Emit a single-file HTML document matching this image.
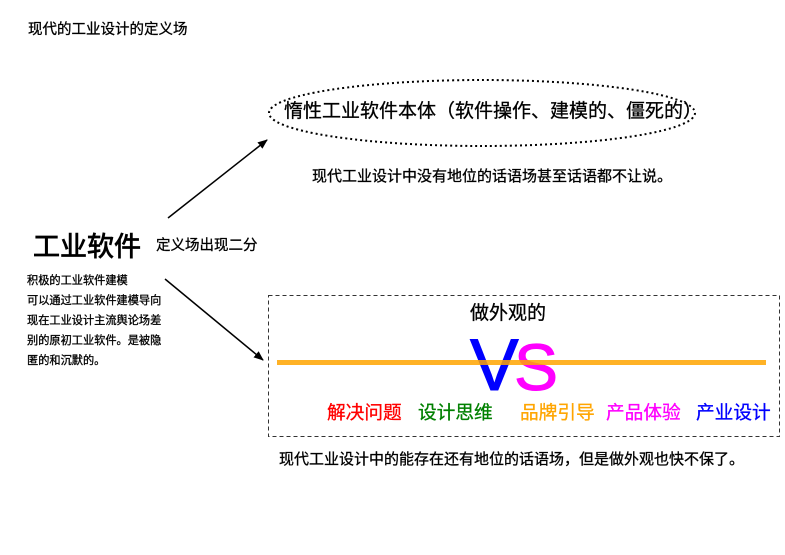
<!DOCTYPE html>
<html><head><meta charset="utf-8"><style>
body{margin:0;width:785px;height:555px;background:#fff;position:relative;overflow:hidden;font-family:"Liberation Sans","Noto Sans CJK SC",sans-serif;color:#000}
.t{position:absolute;white-space:nowrap;line-height:1;-webkit-text-stroke:0.3px currentColor}
</style></head><body>
<svg width="785" height="555" style="position:absolute;left:0;top:0">
<defs><marker id="a" markerWidth="10" markerHeight="8" refX="9" refY="4" orient="auto" markerUnits="userSpaceOnUse"><path d="M0,0 L10,4 L0,8 Z" fill="#000"/></marker></defs>
<ellipse cx="482" cy="113" rx="213" ry="33" fill="none" stroke="#000" stroke-width="2" stroke-dasharray="2,3"/>
<rect x="268.5" y="295.5" width="511" height="141" fill="none" stroke="#333" stroke-width="1" stroke-dasharray="4,3"/>
<line x1="168" y1="218" x2="267" y2="140" stroke="#000" stroke-width="1.5" marker-end="url(#a)"/>
<line x1="165" y1="279" x2="263" y2="360" stroke="#000" stroke-width="1.5" marker-end="url(#a)"/>
<text x="470" y="390" font-family="Liberation Sans, sans-serif" font-size="73" fill="#0000ff" stroke="#0000ff" stroke-width="1">V</text>
<text x="514" y="390" font-family="Liberation Sans, sans-serif" font-size="66" fill="#ff00ff" stroke="#ff00ff" stroke-width="1">S</text>
<rect x="277" y="360" width="489" height="5" fill="#ffa500" opacity="0.85"/>
</svg>
<div class="t" style="left:28px;top:23px;font-size:14.5px">现代的工业设计的定义场</div>
<div class="t" style="left:284px;top:102px;font-size:19px">惰性工业软件本体（软件操作、建模的、僵死的）</div>
<div class="t" style="left:312px;top:169px;font-size:15px">现代工业设计中没有地位的话语场甚至话语都不让说。</div>
<div class="t" style="left:33px;top:234px;font-size:27px;-webkit-text-stroke:0.8px #000">工业软件</div>
<div class="t" style="left:156px;top:239px;font-size:14.5px">定义场出现二分</div>
<div class="t" style="left:27px;top:271px;font-size:11.2px;line-height:20px;white-space:normal;width:150px">积极的工业软件建模<br>可以通过工业软件建模导向<br>现在工业设计主流舆论场差<br>别的原初工业软件。是被隐<br>匿的和沉默的。</div>
<div class="t" style="left:470px;top:304px;font-size:19px">做外观的</div>
<div class="t" style="left:327px;top:404px;font-size:18.7px;color:#ff0000">解决问题</div>
<div class="t" style="left:418px;top:404px;font-size:18.7px;color:#008000">设计思维</div>
<div class="t" style="left:520px;top:404px;font-size:18.7px;color:#ffa500">品牌引导</div>
<div class="t" style="left:606px;top:404px;font-size:18.7px;color:#ff00ff">产品体验</div>
<div class="t" style="left:696px;top:404px;font-size:18.7px;color:#0000ff">产业设计</div>
<div class="t" style="left:279px;top:452px;font-size:15px">现代工业设计中的能存在还有地位的话语场，但是做外观也快不保了。</div>
</body></html>
